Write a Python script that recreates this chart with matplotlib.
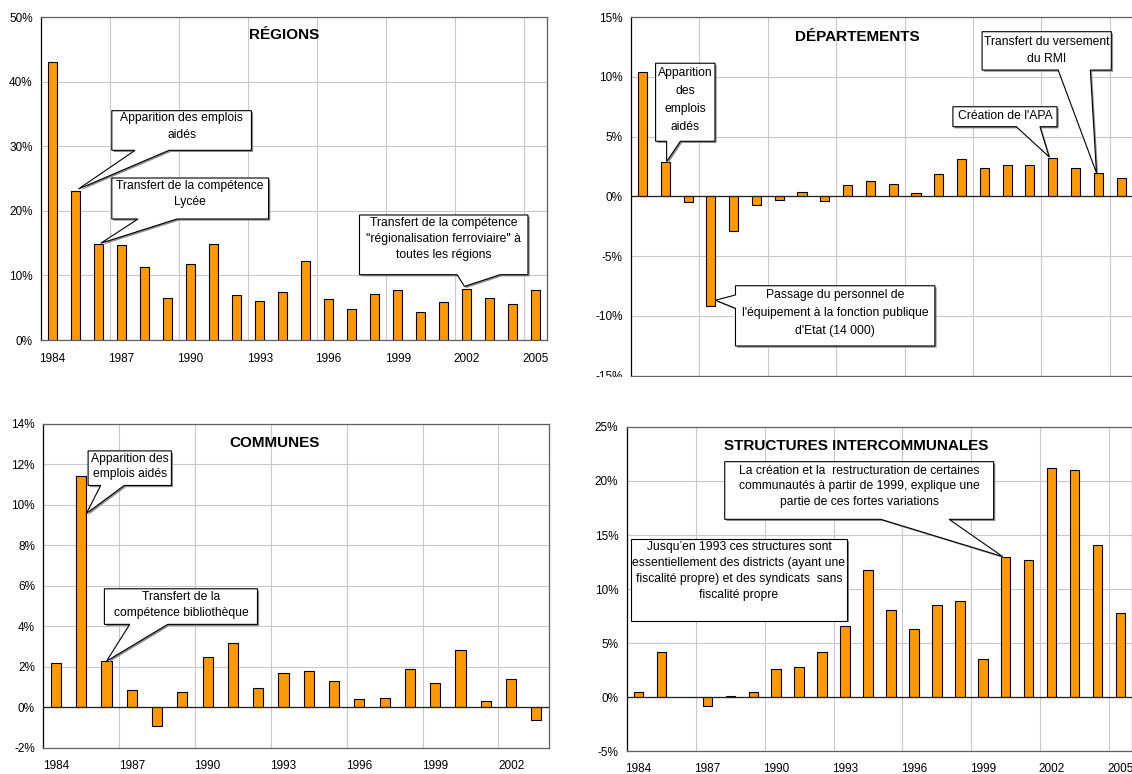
import numpy as np
import matplotlib
matplotlib.use("Agg")
import matplotlib.pyplot as plt
from matplotlib.patches import Polygon, Rectangle
from matplotlib import patheffects as pe

plt.rcParams['font.family'] = ['Liberation Sans', 'DejaVu Sans']

# ---- data: annual change in staff, in % ----
years_full = list(range(1984, 2006))
years_communes = list(range(1984, 2004))

regions = [43.0, 23.1, 14.8, 14.7, 11.3, 6.5, 11.7, 14.8, 6.9, 6.0, 7.4,
           12.3, 6.4, 4.8, 7.2, 7.8, 4.4, 5.9, 7.9, 6.5, 5.6, 7.8]
departements = [10.4, 2.9, -0.5, -9.2, -2.9, -0.7, -0.3, 0.33, -0.36, 0.94, 1.25,
                1.05, 0.28, 1.9, 3.15, 2.4, 2.6, 2.63, 3.2, 2.33, 1.95, 1.5]
communes = [2.2, 11.45, 2.27, 0.82, -0.95, 0.74, 2.48, 3.16, 0.93, 1.7,
            1.8, 1.29, 0.4, 0.45, 1.9, 1.2, 2.84, 0.3, 1.39, -0.64]
intercommunales = [0.5, 4.2, np.nan, -0.8, 0.1, 0.5, 2.6, 2.8, 4.2, 6.6, 11.8,
                   8.1, 6.3, 8.5, 8.9, 3.5, 13.0, 12.7, 21.2, 21.0, 14.1, 7.8]

W, H, DPI = 1132, 774, 100
fig = plt.figure(figsize=(W / DPI, H / DPI), dpi=DPI)
fig.patch.set_facecolor('white')

BAR = '#FF9900'
GRID = '#c8c8c8'
ANN_FS = 8.7
TICK_FS = 8.5


def axes_px(left, right, top, bottom):
    return fig.add_axes([left / W, 1 - bottom / H, (right - left) / W, (bottom - top) / H])


def panel(ax, years, values, ylim, ystep, title, title_pos, xlabels=True):
    n = len(years)
    x = np.arange(n)
    vals = np.asarray(values, dtype=float)
    ok = ~np.isnan(vals)
    ax.bar(x[ok], vals[ok], width=0.4, color=BAR, edgecolor='black',
           linewidth=0.8, zorder=3)
    ax.set_xlim(-0.5, n - 0.5)
    ax.set_ylim(*ylim)
    yt = np.arange(ylim[0], ylim[1] + ystep / 2, ystep)
    ax.set_yticks(yt)
    ax.set_yticklabels([f"{int(v)}%" for v in yt])
    ax.set_xticks(x[::3])
    ax.set_xticklabels([str(y) for y in years[::3]] if xlabels else [])
    ax.set_xticks(np.arange(2.5, n - 0.5, 3), minor=True)
    ax.grid(axis='x', which='minor', color=GRID, lw=0.8)
    ax.grid(axis='x', which='major', visible=False)
    ax.grid(axis='y', which='major', color=GRID, lw=0.8)
    ax.set_axisbelow(True)
    ax.tick_params(which='both', length=0)
    ax.tick_params(axis='y', pad=6, labelsize=TICK_FS)
    ax.tick_params(axis='x', pad=9, labelsize=TICK_FS)
    for s in ('top', 'right', 'bottom'):
        ax.spines[s].set_color('#606060')
        ax.spines[s].set_linewidth(0.9)
    ax.spines['left'].set_color('black')
    ax.spines['left'].set_linewidth(0.9)
    if ylim[0] < 0:
        ax.axhline(0, color='#202020', lw=0.9, zorder=4)
    ax.text(title_pos[0], title_pos[1], title, transform=ax.transAxes,
            ha='center', va='center', fontsize=11, fontweight='bold')


def callout(ax, box, lines, first, pitch, side=None, base=None, tip=None):
    """Rectangular callout; box = (x0, x1, y_bottom, y_top) in data units."""
    x0, x1, yb, yt = box
    if side == 'bottom':
        a, b = base
        pts = [(x0, yt), (x1, yt), (x1, yb), (b, yb), tip, (a, yb), (x0, yb)]
    elif side == 'left':
        a, b = base
        pts = [(x0, yt), (x1, yt), (x1, yb), (x0, yb), (x0, b), tip, (x0, a)]
    else:
        pts = [(x0, yt), (x1, yt), (x1, yb), (x0, yb)]
    poly = Polygon(pts, closed=True, facecolor='white', edgecolor='black',
                   linewidth=0.8, zorder=6, clip_on=False,
                   transform=ax.transData)
    poly.set_path_effects([pe.SimplePatchShadow(offset=(1.2, -1.2),
                                                shadow_rgbFace='#8a8a8a', alpha=1.0),
                           pe.Normal()])
    ax.add_patch(poly)
    cx = (x0 + x1) / 2
    for k, line in enumerate(lines):
        ax.annotate(line, xy=(cx, yt), xycoords='data',
                    xytext=(0, -(first + k * pitch) * 72 / DPI),
                    textcoords='offset points', ha='center', va='center',
                    fontsize=ANN_FS, zorder=7, annotation_clip=False)


# ---- RÉGIONS ----
ax1 = axes_px(41, 547.3, 17.3, 340)
panel(ax1, years_full, regions, (0, 50), 10, 'RÉGIONS', (0.481, 0.945))
callout(ax1, (2.577, 8.644, 29.39, 35.53), ['Apparition des emplois', 'aidés'],
        7.7, 16.7, 'bottom', (3.585, 5.063), (1.13, regions[1] + 0.3))
callout(ax1, (2.577, 9.39, 18.75, 25.10), ['Transfert de la compétence', 'Lycée'],
        8.3, 15.7, 'bottom', (3.716, 5.41), (2.1, regions[2] + 0.2))
callout(ax1, (13.34, 20.66, 10.12, 19.37),
        ['Transfert de la compétence', '"régionalisation ferroviaire" à',
         'toutes les régions'],
        8.3, 16, 'bottom', (17.58, 19.45), (17.9, regions[18] + 0.4))

# ---- DÉPARTEMENTS ----
ax2 = axes_px(631.1, 1132.5, 17, 375.5)
panel(ax2, years_full, departements, (-15, 15), 5, 'DÉPARTEMENTS', (0.451, 0.945),
      xlabels=False)
callout(ax2, (0.575, 3.18, 4.60, 11.13), ['Apparition', 'des', 'emplois', 'aidés'],
        10, 17.9, 'bottom', (1.06, 1.66), (1.06, departements[1]))
callout(ax2, (4.08, 12.83, -12.53, -7.49),
        ['Passage du personnel de', "l'équipement à la fonction publique",
         "d'Etat (14 000)"],
        9.3, 18.2, 'left', (-8.26, -9.38), (3.2, departements[3] + 0.5))
callout(ax2, (13.62, 18.19, 5.82, 7.49), ["Création de l'APA"],
        9.6, 0, 'bottom', (16.40, 17.44), (17.84, departements[18] + 0.1))
callout(ax2, (14.90, 20.57, 10.56, 13.77), ['Transfert du versement', 'du RMI'],
        10, 17.7, 'bottom', (18.24, 19.65), (19.92, departements[20]))

# the lower end of this panel is cut off
fig.patches.append(Rectangle((560 / W, 1 - 405 / H), 572 / W, (405 - 377) / H,
                             transform=fig.transFigure, facecolor='white',
                             edgecolor='none', zorder=20))

# ---- COMMUNES ----
ax3 = axes_px(43.3, 549, 424, 747.5)
panel(ax3, years_communes, communes, (-2, 14), 2, 'COMMUNES', (0.457, 0.94))
callout(ax3, (1.272, 4.566, 10.96, 12.67), ['Apparition des', 'emplois aidés'],
        8.3, 15.3, 'bottom', (1.77, 2.70), (1.2, 9.57))
callout(ax3, (1.916, 7.97, 4.09, 5.85), ['Transfert de la', 'compétence bibliothèque'],
        8, 16, 'bottom', (2.917, 4.42), (2.0, communes[2]))

# ---- STRUCTURES INTERCOMMUNALES ----
ax4 = axes_px(626.7, 1132.3, 427, 751)
panel(ax4, years_full, intercommunales, (-5, 25), 5, 'STRUCTURES INTERCOMMUNALES',
      (0.4537, 0.941))
callout(ax4, (3.765, 15.466, 16.45, 21.79),
        ['La création et la  restructuration de certaines',
         'communautés à partir de 1999, explique une',
         'partie de ces fortes variations'],
        9, 15.8, 'bottom', (10.56, 13.53), (15.86, intercommunales[16]))
callout(ax4, (-0.32, 9.09, 7.06, 14.60),
        ['Jusqu’en 1993 ces structures sont',
         'essentiellement des districts (ayant une',
         'fiscalité propre) et des syndicats  sans',
         'fiscalité propre'],
        8, 16)

fig.savefig('out.png', dpi=DPI, facecolor='white')
